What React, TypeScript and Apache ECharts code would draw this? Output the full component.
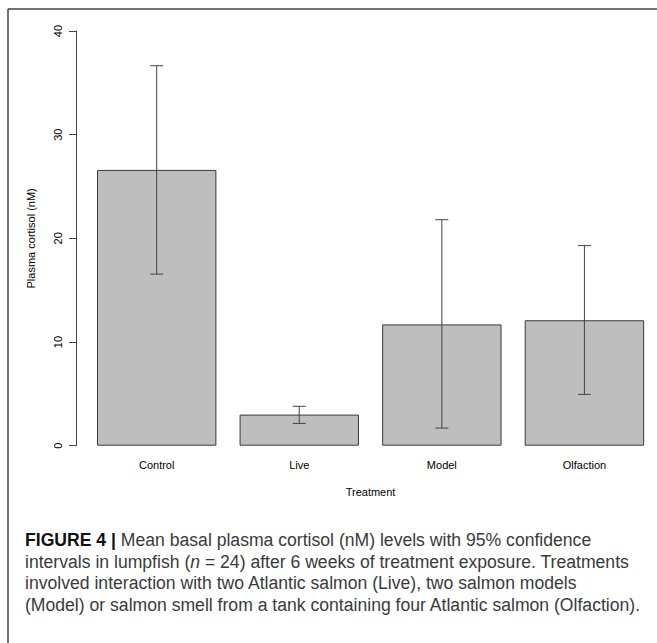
import React, { useEffect, useRef } from "react";
import * as echarts from "echarts";

const categories = ["Control", "Live", "Model", "Olfaction"];
const meanValues = [26.6, 3.0, 11.7, 12.1];
const lowerCI = [16.55, 2.15, 1.7, 4.95];
const upperCI = [36.65, 3.8, 21.8, 19.3];
const yTicks = { min: 0, max: 40, interval: 10 };

const captionLines = [
  "{b|FIGURE 4 |} Mean basal plasma cortisol (nM) levels with 95% confidence",
  "intervals in lumpfish ({i|n} = 24) after 6 weeks of treatment exposure. Treatments",
  "involved interaction with two Atlantic salmon (Live), two salmon models",
  "(Model) or salmon smell from a tank containing four Atlantic salmon (Olfaction).",
];

export default function App() {
  const ref = useRef<HTMLDivElement>(null);
  useEffect(() => {
    if (!ref.current) return;
    const chart = echarts.init(ref.current, null, { renderer: "svg" });
    const font = "'Liberation Sans', Arial, Helvetica, sans-serif";
    const capSize = 17.6;
    const errData = categories.map((c, i) => [i, lowerCI[i], upperCI[i]]);
    chart.setOption({
      animation: false,
      textStyle: { fontFamily: font },
      grid: { left: 85.4, width: 570.3, top: 31, height: 414.7 },
      xAxis: {
        type: "category",
        data: categories,
        axisLine: { show: false },
        axisTick: { show: false },
        axisLabel: { color: "#000", fontSize: 11, margin: 14, fontFamily: font },
        name: "Treatment",
        nameLocation: "middle",
        nameGap: 41,
        nameTextStyle: { color: "#000", fontSize: 11, fontFamily: font },
      },
      yAxis: {
        type: "value",
        min: yTicks.min,
        max: yTicks.max,
        interval: yTicks.interval,
        offset: 9.4,
        splitLine: { show: false },
        axisLine: { show: true, lineStyle: { color: "#444", width: 1 } },
        axisTick: { show: true, length: 7, lineStyle: { color: "#444", width: 1 } },
        axisLabel: { rotate: 90, color: "#000", fontSize: 11, margin: 13, fontFamily: font },
        name: "Plasma cortisol (nM)",
        nameLocation: "middle",
        nameGap: 40,
        nameTextStyle: { color: "#000", fontSize: 11, fontFamily: font },
      },
      series: [
        {
          type: "bar",
          data: meanValues,
          barWidth: 119.4,
          itemStyle: { color: "#bebebe", borderColor: "#3a3a3a", borderWidth: 1 },
          z: 2,
        },
        {
          type: "custom",
          data: errData,
          z: 5,
          renderItem: (params: any, api: any) => {
            const x = api.value(0);
            const lo = api.coord([x, api.value(1)]);
            const hi = api.coord([x, api.value(2)]);
            const hw = 6.5;
            const style = { stroke: "#444", lineWidth: 1 };
            return {
              type: "group",
              children: [
                { type: "line", shape: { x1: lo[0], y1: lo[1], x2: hi[0], y2: hi[1] }, style },
                { type: "line", shape: { x1: lo[0] - hw, y1: lo[1], x2: lo[0] + hw, y2: lo[1] }, style },
                { type: "line", shape: { x1: hi[0] - hw, y1: hi[1], x2: hi[0] + hw, y2: hi[1] }, style },
              ],
            };
          },
        },
      ],
      graphic: [
        { type: "line", shape: { x1: 8, y1: 9, x2: 657, y2: 9 }, style: { stroke: "#444", lineWidth: 1.5 } },
        { type: "line", shape: { x1: 8, y1: 9, x2: 8, y2: 643 }, style: { stroke: "#444", lineWidth: 1.5 } },
        ...captionLines.map((t, i) => ({
          type: "text",
          x: 25,
          y: 540 + i * 21.5,
          style: {
            text: t,
            fontFamily: font,
            fontSize: capSize,
            fill: "#3a3a3a",
            verticalAlign: "middle",
            rich: {
              b: { fontWeight: "bold", fill: "#111", fontSize: capSize, fontFamily: font },
              i: { fontStyle: "italic", fill: "#3a3a3a", fontSize: capSize, fontFamily: font },
            },
          },
        })),
      ],
    });
    return () => chart.dispose();
  }, []);
  return (
    <div
      ref={ref}
      style={{ position: "absolute", left: 0, top: 0, width: 657, height: 643, background: "#fff" }}
    />
  );
}
